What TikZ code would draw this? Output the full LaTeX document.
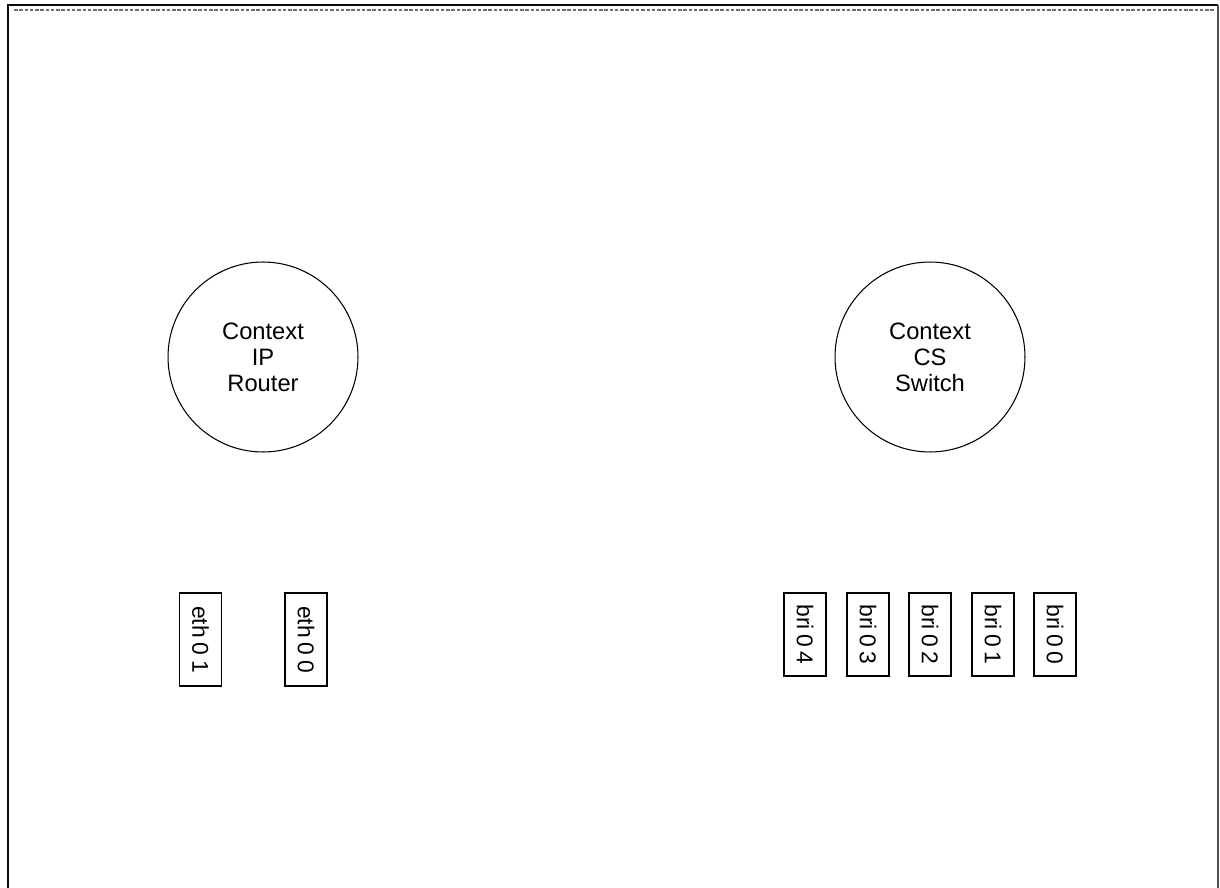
\documentclass[tikz,border=0pt]{standalone}
\usepackage{fontspec}
\setmainfont{Liberation Sans}
\usepackage{tikz}
\usetikzlibrary{positioning}
\definecolor{cFrame}{RGB}{10,10,10}
\definecolor{cEdge}{RGB}{80,80,80}
\definecolor{cDash}{RGB}{110,110,110}
\newcommand\portfont{\fontsize{13}{15}\selectfont\spaceskip=2.7pt plus 0pt minus 0pt\relax}
\tikzset{
  ctxnode/.style={circle,draw=black,line width=0.6pt,minimum size=3.8cm,
                  align=center,font=\fontsize{13.5}{14.8}\selectfont,inner sep=0pt},
  portbox/.style={rectangle,draw=black,line width=0.6pt,rotate=-90,
                  minimum height=0.84cm,inner sep=0pt,font=\portfont},
  ethbox/.style={portbox,minimum width=1.86cm},
  bribox/.style={portbox,minimum width=1.66cm}
}
\begin{document}
\begin{tikzpicture}[x=0.02cm,y=-0.02cm]
  \useasboundingbox (0,0) rectangle (1220,888);

  % frame
  \coordinate (fbl) at (8,888);
  \coordinate (ftl) at (8,5);
  \coordinate (ftr) at (1218,5);
  \coordinate (fbr) at (1218,888);
  \draw[cFrame,line width=1.4pt] (fbl) -- (ftl) -- (ftr);
  \draw[cEdge,line width=0.8pt] (ftr) -- (fbr);
  \coordinate (dl) at (14,10);
  \coordinate (dr) at (1214,10);
  \draw[cDash,line width=0.6pt,dash pattern=on 2pt off 1pt] (dl) -- (dr);

  % contexts
  \node[ctxnode] (router) at (263,357) {Context\\IP\\Router};
  \node[ctxnode] (switch) at (930,357) {Context\\CS\\Switch};

  % ports
  \node[ethbox] (eth1) at (200.5,639.5) {eth 0 1};
  \node[ethbox] (eth0) at (306,639.5) {eth 0 0};
  \foreach \i/\x in {4/805,3/868,2/930,1/993,0/1055}
    \node[bribox] (bri\i) at (\x,634.5) {bri 0 \i};

\end{tikzpicture}
\end{document}
